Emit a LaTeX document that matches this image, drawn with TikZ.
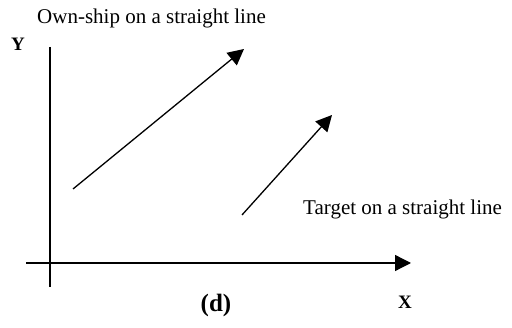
\documentclass[tikz,border=0pt]{standalone}
\usepackage{fontspec}
\setmainfont{Liberation Serif}
\usetikzlibrary{arrows.meta}
\begin{document}
\begin{tikzpicture}[x=1pt,y=-1pt,
  line/.style={line width=1.3pt},
  arr/.style={line width=1.3pt,-{Triangle[length=16pt,width=16pt]}},
  lbl/.style={inner sep=0pt,font=\fontsize{21}{24}\selectfont},
  axl/.style={inner sep=0pt,font=\fontsize{19}{22}\selectfont\bfseries}]
\useasboundingbox (0,0) rectangle (512,328);
\coordinate (ytop) at (50,47);
\coordinate (ybot) at (50,287);
\coordinate (xl) at (26,263);
\coordinate (xr) at (411,263);
\draw[line] (ytop) -- (ybot);
\draw[arr] (xl) -- (xr);
\coordinate (a1s) at (73,189);
\coordinate (a1e) at (244,49);
\draw[arr] (a1s) -- (a1e);
\coordinate (a2s) at (242,215);
\coordinate (a2e) at (332,115);
\draw[arr] (a2s) -- (a2e);
\node[lbl,anchor=west] (own) at (37,18) {Own-ship on a straight line};
\node[lbl,anchor=west] (tgt) at (303,209) {Target on a straight line};
\node[axl] (Y) at (18,44) {Y};
\node[axl] (X) at (405,302) {X};
\node[lbl,font=\fontsize{25}{28}\selectfont\bfseries] (d) at (216,305) {(d)};
\end{tikzpicture}
\end{document}
